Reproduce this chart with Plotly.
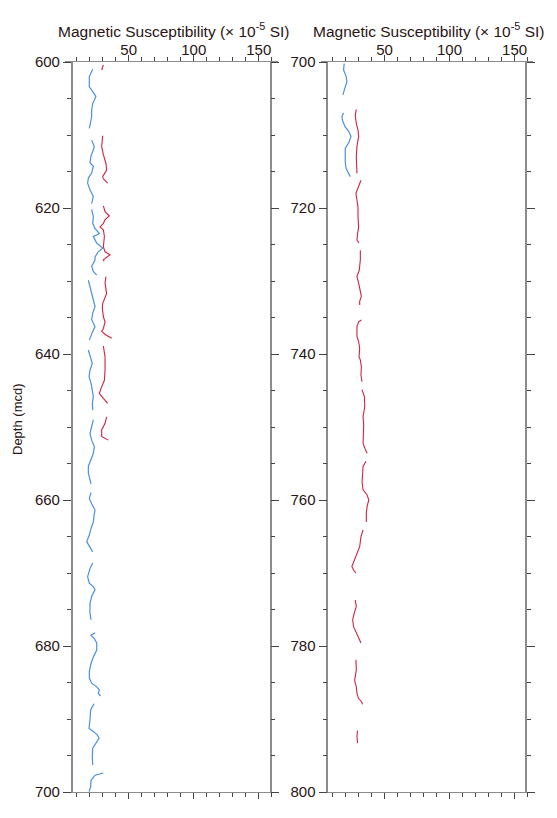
import plotly.graph_objects as go

# ---------------- data (depth in mcd, magnetic susceptibility in 1e-5 SI) ----------------
# Left panel, blue series (None = gap between cores)
left_blue_depth = [601.0, 602.0, 603.4, 604.1, 604.7, 605.7, 606.6, 607.5, 608.6, 609.1, None,
                   610.7, 611.6, 612.9, 613.8, 614.3, 615.2, 615.9, 616.6, 617.5, 618.4, 619.4, None,
                   620.2, 621.2, 622.1, 622.8, 623.5, 623.9, 624.8, 625.5, 626.0, 626.7, 627.1, 628.0, 628.7, 629.2, None,
                   629.9, 630.8, 631.7, 632.6, 633.5, 634.4, 635.3, 636.25, 636.9, 638.1, None,
                   639.45, 640.4, 641.3, 642.2, 643.1, 644.0, 644.9, 645.8, 646.75, 647.7, None,
                   649.0, 650.0, 650.9, 651.8, 652.7, 653.6, 654.5, 655.4, 656.3, 657.3, 657.8, None,
                   659.0, 659.8, 660.5, 661.4, 662.1, 663.0, 663.9, 664.8, 665.7, 666.4, 667.1, None,
                   668.6, 669.4, 670.5, 671.4, 671.9, 672.3, 673.2, 674.2, 675.5, 676.4, None,
                   678.2, 678.5, 679.0, 679.6, 680.55, 681.5, 682.4, 683.5, 684.4, 685.1, 685.6, 686.0, 686.5, 686.85, None,
                   687.9, 688.8, 690.1, 691.3, 691.7, 692.2, 692.65, 693.3, 694.0, 695.2, 696.3, None,
                   697.4, 697.7, 698.4, 699.3, 699.95]
left_blue_ms = [22.3, 19.7, 19.7, 22.8, 24.8, 22.3, 21.5, 21.5, 20.2, 19.7, None,
                21.5, 23.6, 21.0, 20.2, 22.8, 21.5, 18.95, 18.4, 20.2, 22.8, 21.5, None,
                21.5, 22.8, 22.3, 24.1, 27.4, 22.8, 25.4, 29.97, 26.6, 24.1, 24.1, 21.5, 22.8, 25.4, None,
                18.95, 20.2, 21.5, 22.8, 24.1, 22.3, 21.5, 24.1, 22.3, 19.7, None,
                18.95, 20.7, 22.0, 20.2, 19.5, 21.0, 22.0, 22.8, 22.0, 22.3, None,
                22.8, 21.5, 20.2, 21.5, 23.6, 22.8, 21.0, 18.95, 18.95, 20.2, 21.0, None,
                21.0, 19.7, 21.5, 24.1, 23.3, 22.8, 21.0, 19.7, 17.7, 19.7, 22.3, None,
                22.3, 20.2, 18.4, 19.7, 22.8, 24.1, 21.5, 20.2, 20.2, 21.0, None,
                24.1, 21.0, 23.6, 25.4, 25.4, 22.8, 21.0, 19.7, 19.7, 21.5, 25.4, 27.4, 26.6, 28.4, None,
                23.3, 20.7, 20.2, 19.5, 22.8, 25.9, 27.2, 24.8, 22.3, 22.0, 22.3, None,
                30.5, 24.1, 21.0, 20.7, 19.5]

# Left panel, red series
left_red_depth = [600.4, 601.1, None,
                  610.1, 611.6, 612.7, 613.9, 614.8, 615.7, 616.0, 616.6, None,
                  619.7, 620.5, 621.1, 621.6, 622.1, 622.6, 623.0, 623.9, 625.3, 626.0, 626.4, 626.8, 627.1, 627.3, None,
                  629.4, 630.3, 631.7, 633.1, 633.7, 634.9, 635.6, 636.5, 636.9, 637.4, 637.85, None,
                  638.9, 640.4, 642.2, 643.6, 644.5, 645.4, 645.8, 646.75, None,
                  648.6, 649.5, 650.4, 651.3, 651.8]
left_red_ms = [30.5, 29.2, None,
               29.97, 29.2, 30.5, 32.5, 33.0, 29.97, 30.5, 33.8, None,
               30.5, 31.8, 35.1, 31.8, 30.5, 27.9, 30.5, 31.3, 30.5, 31.8, 35.6, 32.5, 30.5, 31.0, None,
               32.5, 31.8, 33.0, 29.97, 29.7, 30.5, 31.8, 30.5, 29.2, 32.5, 36.9, None,
               30.5, 31.8, 31.8, 31.3, 29.2, 27.4, 29.2, 33.8, None,
               33.0, 31.8, 29.2, 29.2, 34.3]

# Right panel, blue series
right_blue_depth = [700.2, 701.1, 702.0, 702.7, 703.4, 704.1, 704.5, None,
                    707.0, 707.5, 708.2, 708.9, 709.5, 710.2, 711.1, 711.8, 712.7, 713.7, 714.6, 715.25, 715.7]
right_blue_ms = [19.0, 18.5, 20.5, 21.1, 19.8, 18.5, 18.0, None,
                 18.5, 17.2, 18.0, 19.8, 22.4, 24.2, 22.4, 19.8, 19.8, 19.8, 20.5, 22.4, 23.6]

# Right panel, red series
right_red_depth = [706.5, 707.3, 708.4, 709.3, 710.2, 711.6, 713.0, 714.3, 715.25, None,
                   716.2, 717.1, 718.0, 718.9, 719.8, 721.2, 722.6, 723.5, 724.4, 724.8, None,
                   725.8, 727.1, 728.5, 729.4, 730.3, 731.2, 732.1, 732.8, 733.3, None,
                   735.35, 735.6, 736.25, 737.6, 738.3, 739.2, 740.4, 740.8, 741.7, 742.9, 743.8, None,
                   744.9, 745.8, 747.2, 748.6, 749.7, 750.9, 752.2, 752.9, 753.6, None,
                   754.7, 755.4, 756.3, 757.5, 758.6, 759.3, 760.0, 760.9, 761.8, 763.0, None,
                   764.1, 765.0, 766.4, 767.3, 768.2, 769.1, 769.6, 770.0, None,
                   773.7, 774.6, 775.5, 776.4, 777.35, 778.0, 778.95, 779.6, None,
                   781.9, 783.3, 784.7, 785.6, 786.5, 787.2, 787.6, 788.0, None,
                   791.6, 792.4, 793.3]
right_red_ms = [28.3, 27.5, 28.3, 29.6, 30.1, 28.8, 28.3, 28.8, 28.8, None,
                31.9, 30.1, 28.0, 28.8, 29.6, 29.6, 30.1, 29.3, 28.8, 30.4, None,
                31.4, 31.4, 30.6, 28.8, 30.1, 31.4, 32.2, 30.9, 30.9, None,
                32.2, 30.1, 28.8, 28.8, 30.1, 30.9, 30.4, 31.4, 32.2, 31.9, 32.7, None,
                32.7, 34.5, 34.8, 33.5, 34.0, 33.5, 33.5, 34.8, 36.6, None,
                35.8, 33.5, 33.2, 32.7, 33.5, 36.6, 37.9, 36.6, 36.0, 36.0, None,
                33.5, 31.9, 30.9, 28.8, 27.0, 24.9, 26.2, 28.0, None,
                27.5, 28.3, 26.7, 25.5, 26.2, 28.0, 30.1, 31.9, None,
                28.0, 28.3, 27.0, 28.3, 28.8, 30.1, 32.2, 33.2, None,
                29.3, 28.8, 29.3]

x_title = "Magnetic Susceptibility (× 10<sup>-5</sup> SI)"
y_title = "Depth (mcd)"

# ---------------- styling ----------------
W, H = 557, 818
OFF = 8  # page body margin offset
FONT = "Liberation Sans, Arial, Helvetica, sans-serif"
TXT = "#2a1414"
BLUE = "#4a90dc"
RED = "#d3213f"
LINE = "#8c8c8c"
TICK = "#444444"


def px_x(p):
    return (p - OFF) / W


def px_y(p):
    return 1 - (p - OFF) / H


ydom = [px_y(792), px_y(62)]

fig = go.Figure()

# Left panel traces
fig.add_trace(go.Scatter(x=left_blue_ms, y=left_blue_depth, mode="lines",
                         line=dict(color=BLUE, width=1.2), xaxis="x", yaxis="y",
                         showlegend=False, connectgaps=False))
fig.add_trace(go.Scatter(x=left_red_ms, y=left_red_depth, mode="lines",
                         line=dict(color=RED, width=1.1), xaxis="x", yaxis="y",
                         showlegend=False, connectgaps=False))
# Right panel traces
fig.add_trace(go.Scatter(x=right_blue_ms, y=right_blue_depth, mode="lines",
                         line=dict(color=BLUE, width=1.2), xaxis="x2", yaxis="y2",
                         showlegend=False, connectgaps=False))
fig.add_trace(go.Scatter(x=right_red_ms, y=right_red_depth, mode="lines",
                         line=dict(color=RED, width=1.1), xaxis="x2", yaxis="y2",
                         showlegend=False, connectgaps=False))
# empty traces to render the right-hand frame axes
fig.add_trace(go.Scatter(x=[None], y=[None], xaxis="x", yaxis="y3", showlegend=False, hoverinfo="skip"))
fig.add_trace(go.Scatter(x=[None], y=[None], xaxis="x2", yaxis="y4", showlegend=False, hoverinfo="skip"))

xcommon = dict(range=[1, 164.5], side="top", showgrid=False, zeroline=False, automargin=False,
               showline=True, linecolor=LINE, linewidth=1.3, mirror="ticks",
               ticks="outside", ticklen=6, tickwidth=1, tickcolor=TICK,
               tick0=0, dtick=50, tickfont=dict(size=15, color=TXT, family=FONT),
               ticklabelstandoff=-6,
               minor=dict(dtick=10, tick0=0, ticks="outside", ticklen=4, tickcolor=TICK, tickwidth=1),
               fixedrange=True)


def ycommon(rng):
    return dict(range=rng, domain=ydom, anchor="free", showgrid=False, zeroline=False,
                automargin=False,
                showline=True, linecolor=LINE, linewidth=1.5,
                ticks="outside", ticklen=8, tickwidth=1, tickcolor=TICK,
                tick0=600, dtick=20, tickfont=dict(size=15, color=TXT, family=FONT),
                minor=dict(dtick=5, ticks="outside", ticklen=4, tickcolor=TICK, tickwidth=1),
                fixedrange=True)


fig.update_layout(
    width=W, height=H,
    margin=dict(l=0, r=0, t=0, b=0, autoexpand=False),
    paper_bgcolor="white", plot_bgcolor="rgba(0,0,0,0)",
    font=dict(family=FONT, color=TXT, size=14),
    xaxis=dict(domain=[px_x(65), px_x(277.6)], anchor="y", **xcommon),
    xaxis2=dict(domain=[px_x(320.8), px_x(533.4)], anchor="y2", **xcommon),
    yaxis=dict(position=px_x(71.7), side="left", **ycommon([700, 600])),
    yaxis2=dict(position=px_x(327.3), side="left", **ycommon([800, 700])),
    yaxis3=dict(position=px_x(270.7), side="right", overlaying="y", showticklabels=False,
                **ycommon([700, 600])),
    yaxis4=dict(position=px_x(526), side="right", overlaying="y2", showticklabels=False,
                **ycommon([800, 700])),
    annotations=[
        dict(text=x_title, x=px_x(173.5), y=px_y(30), xref="paper", yref="paper",
             xanchor="center", yanchor="middle", showarrow=False,
             font=dict(size=15.5, color=TXT, family=FONT)),
        dict(text=x_title, x=px_x(428.5), y=px_y(30), xref="paper", yref="paper",
             xanchor="center", yanchor="middle", showarrow=False,
             font=dict(size=15.5, color=TXT, family=FONT)),
        dict(text=y_title, x=px_x(18), y=px_y(419), xref="paper", yref="paper",
             xanchor="center", yanchor="middle", showarrow=False, textangle=-90,
             font=dict(size=13, color=TXT, family=FONT)),
    ],
)

fig.write_html("out.html")
